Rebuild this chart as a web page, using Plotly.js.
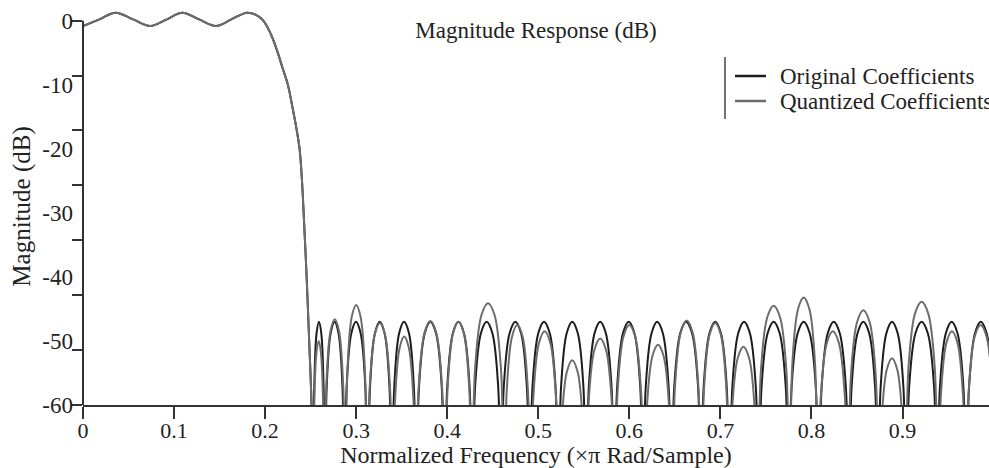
<!DOCTYPE html>
<html>
<head>
<meta charset="utf-8">
<script src="https://cdn.plot.ly/plotly-3.0.1.min.js"></script>
<style>html,body{margin:0;padding:0;background:#fff;}#chart{width:989px;height:468px;}</style>
</head>
<body>
<div id="chart"></div>
<script>
// ---- data ----
const seriesNames = ["Original Coefficients", "Quantized Coefficients"];

// shared passband + transition band (both series coincide here)
const freqPass = [0, 0.018, 0.0357, 0.055, 0.074, 0.092, 0.109, 0.1275, 0.146, 0.163, 0.180,
  0.190, 0.198, 0.206, 0.213, 0.219, 0.225, 0.230, 0.2346, 0.238, 0.2405, 0.2423, 0.2456, 0.2484, 0.2510, 0.2527];
const magPass = [-0.83, 0.21, 1.25, 0.21, -0.83, 0.21, 1.25, 0.21, -0.83, 0.21, 1.25,
  0.9, 0, -2, -4.6, -7.3, -10, -13.5, -17, -20.2, -25, -30, -40, -50, -60, -75];

// stopband, original coefficients
const freqOrig = [
  0.2540, 0.2565, 0.2591, 0.2617, 0.2642, 0.2655,
  0.2677, 0.2720, 0.2763, 0.2806, 0.2849, 0.2870,
  0.2896, 0.2947, 0.2998, 0.3049, 0.3100, 0.3126,
  0.3153, 0.3206, 0.3259, 0.3312, 0.3365, 0.3392,
  0.3419, 0.3472, 0.3526, 0.3580, 0.3633, 0.3660,
  0.3691, 0.3753, 0.3815, 0.3877, 0.3939, 0.3970,
  0.4001, 0.4062, 0.4123, 0.4184, 0.4245, 0.4275,
  0.4307, 0.4370, 0.4433, 0.4496, 0.4559, 0.4590,
  0.4622, 0.4685, 0.4748, 0.4811, 0.4874, 0.4905,
  0.4937, 0.5000, 0.5063, 0.5126, 0.5189, 0.5220,
  0.5251, 0.5312, 0.5373, 0.5434, 0.5495, 0.5525,
  0.5556, 0.5618, 0.5680, 0.5742, 0.5804, 0.5835,
  0.5867, 0.5930, 0.5993, 0.6056, 0.6119, 0.6150,
  0.6181, 0.6244, 0.6306, 0.6368, 0.6431, 0.6462,
  0.6494, 0.6559, 0.6624, 0.6689, 0.6754, 0.6786,
  0.6817, 0.6880, 0.6943, 0.7006, 0.7069, 0.7100,
  0.7132, 0.7196, 0.7260, 0.7324, 0.7388, 0.7420,
  0.7453, 0.7519, 0.7585, 0.7651, 0.7717, 0.7750,
  0.7783, 0.7849, 0.7915, 0.7981, 0.8047, 0.8080,
  0.8113, 0.8179, 0.8245, 0.8311, 0.8377, 0.8410,
  0.8442, 0.8506, 0.8570, 0.8634, 0.8698, 0.8730,
  0.8761, 0.8823, 0.8885, 0.8947, 0.9009, 0.9040,
  0.9074, 0.9142, 0.9210, 0.9278, 0.9346, 0.9380,
  0.9412, 0.9476, 0.9540, 0.9604, 0.9668, 0.9700,
  0.9732, 0.9796, 0.9860, 0.9924, 0.9988, 1.0020];
const magOrig = [
  -57, -48.8, -47, -48.8, -57, -75,
  -57, -48.8, -47, -48.8, -57, -75,
  -57, -48.8, -47, -48.8, -57, -75,
  -57, -48.8, -47, -48.8, -57, -75,
  -57, -48.8, -47, -48.8, -57, -75,
  -57, -48.8, -47, -48.8, -57, -75,
  -57, -48.8, -47, -48.8, -57, -75,
  -57, -48.8, -47, -48.8, -57, -75,
  -57, -48.8, -47, -48.8, -57, -75,
  -57, -48.8, -47, -48.8, -57, -75,
  -57, -48.8, -47, -48.8, -57, -75,
  -57, -48.8, -47, -48.8, -57, -75,
  -57, -48.8, -47, -48.8, -57, -75,
  -57, -48.8, -47, -48.8, -57, -75,
  -57, -48.8, -47, -48.8, -57, -75,
  -57, -48.8, -47, -48.8, -57, -75,
  -57, -48.8, -47, -48.8, -57, -75,
  -57, -48.8, -47, -48.8, -57, -75,
  -57, -48.8, -47, -48.8, -57, -75,
  -57, -48.8, -47, -48.8, -57, -75,
  -57, -48.8, -47, -48.8, -57, -75,
  -57, -48.8, -47, -48.8, -57, -75,
  -57, -48.8, -47, -48.8, -57, -75,
  -57, -48.8, -47, -48.8, -57, -75,
  -57, -48.8, -47, -48.8, -57, -75];

// stopband, quantized coefficients
const freqQuant = [
  0.2539, 0.2564, 0.2589, 0.2613, 0.2638, 0.2650,
  0.2673, 0.2719, 0.2765, 0.2811, 0.2857, 0.2880,
  0.2904, 0.2952, 0.3000, 0.3048, 0.3096, 0.3120,
  0.3148, 0.3204, 0.3260, 0.3316, 0.3372, 0.3400,
  0.3426, 0.3477, 0.3528, 0.3579, 0.3630, 0.3655,
  0.3687, 0.3751, 0.3815, 0.3879, 0.3943, 0.3975,
  0.4005, 0.4064, 0.4123, 0.4182, 0.4241, 0.4270,
  0.4306, 0.4377, 0.4448, 0.4519, 0.4590, 0.4625,
  0.4654, 0.4712, 0.4770, 0.4828, 0.4886, 0.4915,
  0.4946, 0.5008, 0.5070, 0.5132, 0.5194, 0.5225,
  0.5255, 0.5314, 0.5373, 0.5432, 0.5491, 0.5520,
  0.5552, 0.5616, 0.5680, 0.5744, 0.5808, 0.5840,
  0.5872, 0.5936, 0.6000, 0.6064, 0.6128, 0.6160,
  0.6191, 0.6253, 0.6315, 0.6377, 0.6439, 0.6470,
  0.6502, 0.6566, 0.6630, 0.6694, 0.6758, 0.6790,
  0.6821, 0.6882, 0.6943, 0.7004, 0.7065, 0.7095,
  0.7127, 0.7190, 0.7253, 0.7316, 0.7379, 0.7410,
  0.7445, 0.7515, 0.7585, 0.7655, 0.7725, 0.7760,
  0.7791, 0.7853, 0.7915, 0.7977, 0.8039, 0.8070,
  0.8103, 0.8169, 0.8235, 0.8301, 0.8367, 0.8400,
  0.8434, 0.8502, 0.8570, 0.8638, 0.8706, 0.8740,
  0.8769, 0.8827, 0.8885, 0.8943, 0.9001, 0.9030,
  0.9066, 0.9138, 0.9210, 0.9282, 0.9354, 0.9390,
  0.9421, 0.9482, 0.9543, 0.9604, 0.9665, 0.9695,
  0.9728, 0.9793, 0.9858, 0.9923, 0.9988, 1.0020];
const magQuant = [
  -60.2, -51.8, -50, -51.8, -60.2, -75,
  -56.8, -48.4, -46.6, -48.4, -56.8, -75,
  -54.6, -46.2, -44.4, -46.2, -54.6, -75,
  -57.4, -49, -47.2, -49, -57.4, -75,
  -59.5, -51.1, -49.3, -51.1, -59.5, -75,
  -57.1, -48.7, -46.9, -48.7, -57.1, -75,
  -57.2, -48.8, -47, -48.8, -57.2, -75,
  -54.3, -45.9, -44.1, -45.9, -54.3, -75,
  -57.7, -49.3, -47.5, -49.3, -57.7, -75,
  -58.7, -50.3, -48.5, -50.3, -58.7, -75,
  -63.2, -54.8, -53, -54.8, -63.2, -75,
  -59.8, -51.4, -49.6, -51.4, -59.8, -75,
  -57.7, -49.3, -47.5, -49.3, -57.7, -75,
  -60.8, -52.4, -50.6, -52.4, -60.8, -75,
  -57, -48.6, -46.8, -48.6, -57, -75,
  -57.4, -49, -47.2, -49, -57.4, -75,
  -61.1, -52.7, -50.9, -52.7, -61.1, -75,
  -54.7, -46.3, -44.5, -46.3, -54.7, -75,
  -53.4, -45, -43.2, -45, -53.4, -75,
  -58.7, -50.3, -48.5, -50.3, -58.7, -75,
  -55.4, -47, -45.2, -47, -55.4, -75,
  -62.9, -54.5, -52.7, -54.5, -62.9, -75,
  -54.1, -45.7, -43.9, -45.7, -54.1, -75,
  -58.7, -50.3, -48.5, -50.3, -58.7, -75,
  -57.7, -49.3, -47.5, -49.3, -57.7, -75];

const xTickVals = [0, 0.1, 0.2, 0.3, 0.4, 0.5, 0.6, 0.7, 0.8, 0.9];
const xTickText = ["0", "0.1", "0.2", "0.3", "0.4", "0.5", "0.6", "0.7", "0.8", "0.9"];
const yTickVals = [0, -10, -20, -30, -40, -50, -60];
const yTickText = ["0", "-10", "-20", "-30", "-40", "-50", "-60"];
const yTickMarkVals = [0, -10, -20, -30, -40, -50, -60, -70];

// ---- styles / layout ----
const colors = ["#1c1c1c", "#6c6c6c"];
const FONT = "Liberation Serif, 'Times New Roman', Times, serif";
const W = 989, H = 468, ML = 83, MR = 0, MT = 8, MB = 63;
const pw = W - ML - MR, ph = H - MT - MB;
const px2x = p => (p - ML) / pw;
const py2y = p => (H - MB - p) / ph;

const traces = [
  {x: freqPass.concat(freqOrig), y: magPass.concat(magOrig), name: seriesNames[0],
   type: "scatter", mode: "lines", line: {color: colors[0], width: 2, shape: "spline", smoothing: 1}, hoverinfo: "skip"},
  {x: freqPass.concat(freqQuant), y: magPass.concat(magQuant), name: seriesNames[1],
   type: "scatter", mode: "lines", line: {color: colors[1], width: 2, shape: "spline", smoothing: 1}, hoverinfo: "skip"},
  {x: [], y: [], yaxis: "y2", type: "scatter", mode: "lines", showlegend: false, hoverinfo: "skip"}
];

const legendRows = [76, 101];
const shapes = [
  {type: "line", xref: "paper", yref: "y", x0: 0, x1: 0, y0: -60, y1: 0, line: {color: "#333", width: 2}},
  {type: "line", xref: "paper", yref: "paper", x0: px2x(725), x1: px2x(725), y0: py2y(57), y1: py2y(119), line: {color: "#444", width: 1.5}}
];
const annotations = [];
seriesNames.forEach((n, i) => {
  shapes.push({type: "line", xref: "paper", yref: "paper", x0: px2x(735), x1: px2x(766),
    y0: py2y(legendRows[i]), y1: py2y(legendRows[i]), line: {color: colors[i], width: 2.5}});
  annotations.push({xref: "paper", yref: "paper", x: px2x(778), y: py2y(legendRows[i]), xanchor: "left", yanchor: "middle",
    text: n, showarrow: false, font: {family: FONT, size: 23, color: "#222"}});
});

const layout = {
  width: W, height: H,
  margin: {l: ML, r: MR, t: MT, b: MB, pad: 0},
  paper_bgcolor: "#fff", plot_bgcolor: "#fff",
  font: {family: FONT, size: 22, color: "#222"},
  showlegend: false,
  title: {text: "Magnitude Response (dB)", font: {family: FONT, size: 23, color: "#222"},
          x: 0.5, xref: "paper", xanchor: "center", y: 1 - 30 / H, yref: "container", yanchor: "middle"},
  xaxis: {range: [0, 0.995], tickvals: xTickVals, ticktext: xTickText, ticks: "outside", ticklen: 12, tickwidth: 2,
          tickcolor: "#333", showline: true, linewidth: 2, linecolor: "#333", showgrid: false, zeroline: false,
          ticklabelstandoff: -7,
          tickfont: {family: FONT, size: 22, color: "#222"},
          title: {text: "Normalized Frequency (×π Rad/Sample)", font: {family: FONT, size: 24, color: "#222"}, standoff: 11}},
  yaxis: {range: [-60, 1.98], tickvals: yTickVals, ticktext: yTickText, ticks: "", showline: false, showgrid: false,
          zeroline: false, ticklabelstandoff: 9, tickfont: {family: FONT, size: 23, color: "#222"},
          title: {text: "Magnitude (dB)", font: {family: FONT, size: 25, color: "#222"}, standoff: 4}},
  yaxis2: {overlaying: "y", anchor: "x", side: "left", range: [-70, 2.31], tickvals: yTickMarkVals, ticks: "outside",
           ticklen: 10, tickwidth: 2, tickcolor: "#333", showticklabels: false, showgrid: false, zeroline: false, showline: false},
  shapes: shapes,
  annotations: annotations
};

Plotly.newPlot("chart", traces, layout, {displayModeBar: false, staticPlot: true});
</script>
</body>
</html>
